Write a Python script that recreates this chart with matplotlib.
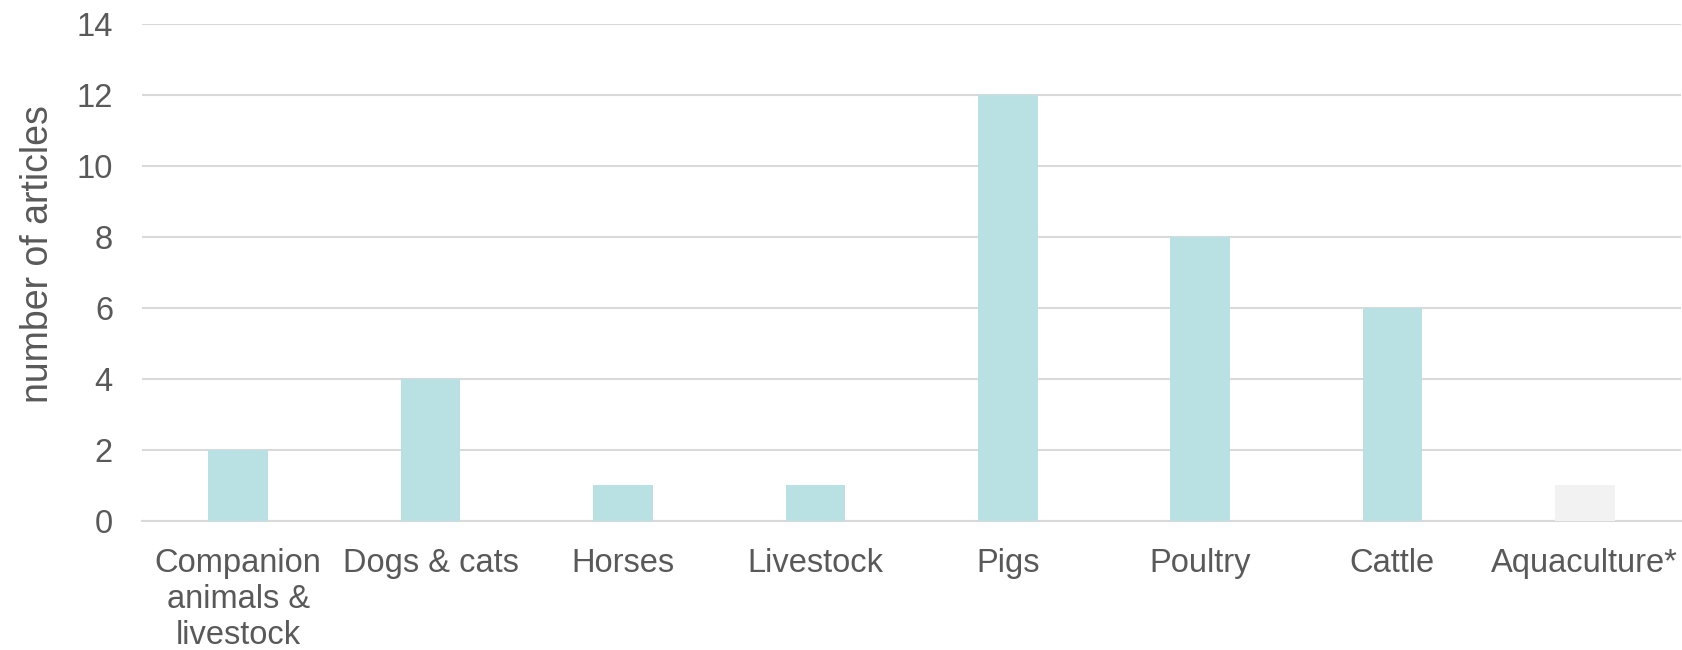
import matplotlib.pyplot as plt
import numpy as np

categories = ['Companion\nanimals &\nlivestock', 'Dogs & cats', 'Horses', 'Livestock',
              'Pigs', 'Poultry', 'Cattle', 'Aquaculture*']
articles = [2, 4, 1, 1, 12, 8, 6, 1]
bar_colors = ['#B9E0E2'] * 7 + ['#F2F2F2']
yticks = [0, 2, 4, 6, 8, 10, 12, 14]

plt.rcParams['font.family'] = ['Liberation Sans', 'DejaVu Sans']

fig = plt.figure(figsize=(16.83, 6.5), dpi=100)
ax = fig.add_axes([0.0844, 0.199, 0.9144, 0.7645])

x = np.arange(len(categories))
ax.bar(x, articles, width=0.31, color=bar_colors, zorder=3)

ax.set_xlim(-0.5, len(categories) - 0.5)
ax.set_ylim(0, 14)
ax.set_yticks(yticks)
ax.set_xticks(x)
ax.set_xticklabels(categories, linespacing=1.2)
ax.tick_params(axis='y', length=0, pad=21, labelsize=23.5, labelcolor='#595959')
ax.tick_params(axis='x', length=0, pad=20, labelsize=23.5, labelcolor='#595959')
ax.grid(axis='y', color='#D9D9D9', linewidth=1.5, zorder=0)

for side in ['top', 'right', 'left']:
    ax.spines[side].set_visible(False)
ax.spines['bottom'].set_color('#D9D9D9')
ax.spines['bottom'].set_linewidth(1.5)

# y axis title placed by hand, slightly above the axis middle
fig.text(0.0225, 0.609, 'number of articles', rotation=90, ha='center', va='center',
         fontsize=27, color='#595959')

fig.savefig('out.png', dpi=100)
